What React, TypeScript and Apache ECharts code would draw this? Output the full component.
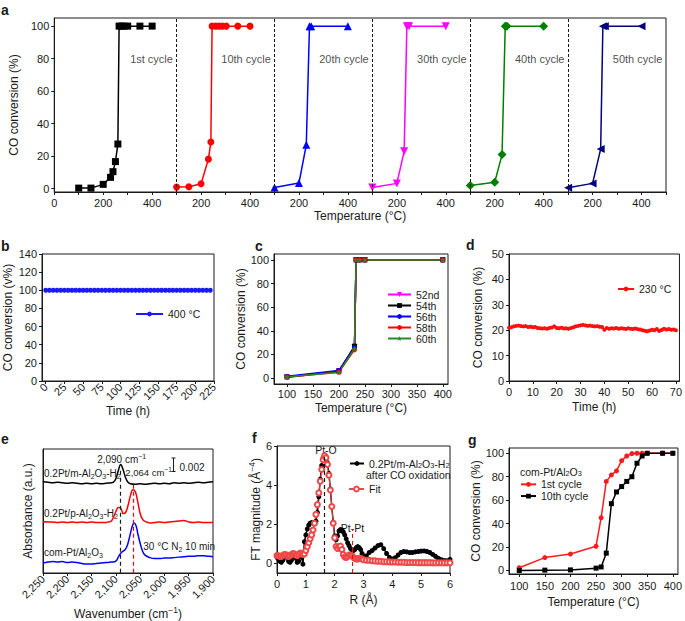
import React, { useEffect, useRef } from "react";
import * as echarts from "echarts";

const FONT = "'Liberation Sans', Arial, Helvetica, sans-serif";
const INK = "#1a1a1a";

// ---------- Panel a : CO conversion over cycles ----------
const aOffsets = [0, 400, 800, 1200, 1600, 2000];
const aDividers = [500, 900, 1300, 1700, 2100];
const aLabels = ["1st cycle", "10th cycle", "20th cycle", "30th cycle", "40th cycle", "50th cycle"];
const aLabelX = [485, 885, 1285, 1685, 2085, 2485];
const aLabelY = 80;
const a1T = [100, 150, 200, 230, 240, 250, 260, 265, 275, 285, 300, 350, 400];
const a1C = [0.4, 0.4, 2.7, 7, 10.5, 16.7, 27.5, 100, 100, 100, 100, 100, 100];
const a10T = [100, 150, 200, 230, 240, 245, 260, 273, 287, 303, 350, 400];
const a10C = [1, 1.2, 3.1, 18.2, 28.7, 100, 100, 100, 100, 100, 100, 100];
const a20T = [100, 200, 230, 243, 250, 400];
const a20C = [0.8, 3.5, 27, 100, 100, 100];
const a30T = [100, 200, 230, 241, 250, 400];
const a30C = [0.8, 3.3, 23, 100, 100, 100];
const a40T = [100, 200, 230, 243, 250, 400];
const a40C = [2, 4, 21, 100, 100, 100];
const a50T = [100, 200, 233, 242, 250, 400];
const a50C = [0.6, 3.3, 24.4, 100, 100, 100];
const aXTicks = [0, 200, 400, 600, 800, 1000, 1200, 1400, 1600, 1800, 2000, 2200, 2400];
const aXMinor = [0, 100, 200, 300, 400, 500, 600, 700, 800, 900, 1000, 1100, 1200, 1300, 1400, 1500, 1600, 1700, 1800, 1900, 2000, 2100, 2200, 2300, 2400, 2500];
const aYTicks = [0, 20, 40, 60, 80, 100];

// ---------- Panel b : 400 °C stability ----------
const bTimes = [0, 5, 10, 15, 20, 25, 30, 35, 40, 45, 50, 55, 60, 65, 70, 75, 80, 85, 90, 95, 100, 105, 110, 115, 120, 125, 130, 135, 140, 145, 150, 155, 160, 165, 170, 175, 180, 185, 190, 195, 200, 205, 210, 215, 220];
const bConv = [100, 100, 100, 100, 100, 100, 100, 100, 100, 100, 100, 100, 100, 100, 100, 100, 100, 100, 100, 100, 100, 100, 100, 100, 100, 100, 100, 100, 100, 100, 100, 100, 100, 100, 100, 100, 100, 100, 100, 100, 100, 100, 100, 100, 100];
const bXTicks = [0, 25, 50, 75, 100, 125, 150, 175, 200, 225];

// ---------- Panel c : cycles 52-60 ----------
const cT = [100, 200, 230, 233, 240, 250, 400];
const c52 = [0.5, 6, 26, 100, 100, 100, 100];
const c54 = [1, 6, 27, 100, 100, 100, 100];
const c56 = [1.5, 6.5, 26, 100, 100, 100, 100];
const c58 = [1, 5, 24, 100, 100, 100, 100];
const c60 = [1, 5, 25, 100, 100, 100, 100];
const cXTicks = [100, 150, 200, 250, 300, 350, 400];
const cYTicks = [0, 20, 40, 60, 80, 100];

// ---------- Panel d : 230 °C stability ----------
const dTimes = [0, 1, 2, 3, 4, 5, 6, 7, 8, 9, 10, 11, 12, 13, 14, 15, 16, 17, 18, 19, 20, 21, 22, 23, 24, 25, 26, 27, 28, 29, 30, 31, 32, 33, 34, 35, 36, 37, 38, 39, 40, 41, 42, 43, 44, 45, 46, 47, 48, 49, 50, 51, 52, 53, 54, 55, 56, 57, 58, 59, 60, 61, 62, 63, 64, 65, 66, 67, 68, 69, 70];
const dConv = [21.0, 21.2, 21.5, 21.7, 21.8, 21.6, 21.5, 21.6, 21.3, 21.4, 21.2, 21.3, 20.9, 20.8, 20.7, 20.8, 20.6, 20.9, 21.1, 21.5, 20.9, 20.8, 21.0, 20.7, 20.8, 20.6, 20.9, 21.2, 21.5, 21.7, 21.9, 22.1, 21.9, 21.7, 21.8, 21.6, 21.5, 21.6, 21.4, 21.3, 20.2, 20.9, 20.6, 20.8, 20.7, 20.9, 20.6, 20.8, 20.7, 20.5, 20.8, 20.6, 20.5, 20.7, 20.4, 20.3, 20.0, 19.8, 19.6, 19.9, 20.2, 20.0, 20.5, 19.7, 20.1, 20.6, 20.3, 20.5, 20.2, 20.3, 20.0];
const dXTicks = [0, 10, 20, 30, 40, 50, 60, 70];

// ---------- Panel e : DRIFTS ----------
const eBlackWn = [2250, 2240, 2230, 2220, 2210, 2200, 2190, 2180, 2170, 2160, 2150, 2140, 2130, 2120, 2110, 2105, 2100, 2095, 2090, 2085, 2080, 2075, 2070, 2060, 2050, 2040, 2030, 2020, 2010, 2000, 1990, 1980, 1970, 1960, 1950, 1940, 1930, 1920, 1910, 1900];
const eBlackAbs = [92, 91.5, 91, 91.5, 91, 90.5, 91, 90.5, 90, 90.5, 90, 90.5, 90, 90.5, 91, 91.5, 95, 103, 109.5, 104, 96, 91.5, 90, 89.5, 90, 89.5, 90, 90.5, 90, 90.5, 90, 91, 90.5, 91, 90.5, 91, 91.5, 91, 91.5, 92];
const eRedWn = [2250, 2240, 2230, 2220, 2210, 2200, 2190, 2180, 2170, 2160, 2150, 2140, 2130, 2120, 2115, 2110, 2105, 2100, 2095, 2090, 2085, 2080, 2075, 2070, 2065, 2060, 2055, 2050, 2045, 2040, 2030, 2020, 2010, 2000, 1990, 1980, 1970, 1960, 1950, 1940, 1930, 1920, 1910, 1900];
const eRedAbs = [52, 51.5, 51.5, 51, 51.5, 51, 51.5, 51, 51.5, 51, 51.5, 51, 51, 51, 51.5, 52, 56, 62, 66, 65.5, 60, 61, 68, 78, 84, 82, 72, 60, 54, 52, 50.5, 51, 51.5, 51, 51.5, 52, 52.5, 53, 51.5, 51, 51.5, 51, 51, 51];
const eBlueWn = [2250, 2240, 2230, 2220, 2210, 2200, 2190, 2180, 2170, 2160, 2150, 2140, 2130, 2120, 2110, 2100, 2095, 2090, 2085, 2080, 2075, 2070, 2065, 2062, 2058, 2055, 2050, 2045, 2040, 2030, 2020, 2010, 2000, 1990, 1980, 1970, 1960, 1950, 1940, 1930, 1920, 1910, 1900];
const eBlueAbs = [10, 11, 11.5, 11, 11.5, 10.5, 11, 10.5, 9.5, 9, 9, 9.5, 10, 10.5, 11, 12, 16, 20, 22, 24, 30, 40, 49, 50.5, 47, 40, 30, 22, 18, 15.5, 14.5, 14.5, 15, 15, 15.5, 16, 16.5, 17, 17, 17.5, 17.5, 17, 16.5];

// ---------- Panel f : EXAFS ----------
const fR = [0, 0.05, 0.1, 0.15, 0.2, 0.25, 0.3, 0.35, 0.4, 0.45, 0.5, 0.55, 0.6, 0.65, 0.7, 0.75, 0.8, 0.85, 0.9, 0.95, 1.0, 1.05, 1.1, 1.15, 1.2, 1.25, 1.3, 1.35, 1.4, 1.45, 1.5, 1.55, 1.6, 1.65, 1.7, 1.75, 1.8, 1.85, 1.9, 1.95, 2.0, 2.05, 2.1, 2.15, 2.2, 2.25, 2.3, 2.35, 2.4, 2.45, 2.5, 2.55, 2.6, 2.65, 2.7, 2.75, 2.8, 2.85, 2.9, 2.95, 3.0, 3.1, 3.2, 3.3, 3.4, 3.5, 3.6, 3.7, 3.8, 3.9, 4.0, 4.1, 4.2, 4.3, 4.4, 4.5, 4.6, 4.7, 4.8, 4.9, 5.0, 5.1, 5.2, 5.3, 5.4, 5.5, 5.6, 5.7, 5.8, 5.9, 6.0];
const fExp = [0.3, 0.2, 0.1, 0.05, 0.15, 0.3, 0.4, 0.3, 0.1, 0.05, 0.15, 0.35, 0.4, 0.25, 0.05, 0.1, 0.4, 0.3, -0.05, 1.1, 1.45, 1.75, 1.95, 2.05, 2.08, 2.05, 2.05, 2.15, 2.6, 3.4, 4.3, 5.0, 5.4, 5.55, 5.45, 5.15, 4.6, 3.8, 2.9, 2.1, 1.4, 1.2, 1.4, 1.65, 1.72, 1.7, 1.6, 1.45, 1.25, 1.05, 0.9, 0.75, 0.68, 0.65, 0.7, 0.8, 0.85, 0.8, 0.7, 0.5, 0.35, 0.38, 0.55, 0.65, 0.78, 0.9, 0.95, 0.75, 0.5, 0.3, 0.22, 0.28, 0.42, 0.55, 0.6, 0.58, 0.55, 0.55, 0.58, 0.6, 0.62, 0.63, 0.6, 0.55, 0.45, 0.35, 0.25, 0.18, 0.14, 0.13, 0.2];
const fFit = [0.4, 0.38, 0.35, 0.35, 0.4, 0.45, 0.45, 0.4, 0.35, 0.38, 0.45, 0.5, 0.48, 0.42, 0.4, 0.45, 0.52, 0.5, 0.45, 0.48, 0.65, 0.85, 1.05, 1.25, 1.45, 1.7, 2.05, 2.5, 3.0, 3.6, 4.2, 4.8, 5.3, 5.5, 5.4, 5.05, 4.5, 3.75, 2.9, 2.05, 1.3, 0.85, 0.75, 0.85, 0.88, 0.7, 0.45, 0.32, 0.3, 0.35, 0.42, 0.42, 0.38, 0.3, 0.25, 0.22, 0.22, 0.25, 0.25, 0.22, 0.18, 0.15, 0.15, 0.13, 0.12, 0.1, 0.1, 0.08, 0.08, 0.07, 0.06, 0.06, 0.05, 0.05, 0.05, 0.04, 0.04, 0.04, 0.04, 0.03, 0.03, 0.03, 0.03, 0.03, 0.02, 0.02, 0.02, 0.02, 0.02, 0.02, 0.02];
const fYTicks = [0, 2, 4, 6];

// ---------- Panel g : com-Pt/Al2O3 ----------
const gT = [100, 150, 200, 250, 260, 270, 280, 290, 300, 310, 320, 330, 340, 350, 380, 400];
const g1 = [2.3, 11, 14, 20.7, 45, 76, 81.5, 85, 93.7, 97.7, 99.7, 100, 100, 100, 100, 100];
const g10 = [0, 0.3, 0.5, 2, 3, 14.8, 57, 67, 71.6, 76, 80, 91.5, 97.7, 100, 100, 100];
const gXTicks = [100, 150, 200, 250, 300, 350, 400];
const gYTicks = [0, 20, 40, 60, 80, 100];

const STAR = "path://M50,0 L61,35 L98,35 L68,57 L79,91 L50,70 L21,91 L32,57 L2,35 L39,35 Z";

const pairs = (xs: number[], ys: number[], off = 0) => xs.map((x, i) => [x + off, ys[i]]);

const richSub = (fs: number, extra = 4) => ({
  n: { fontSize: fs, fontFamily: FONT, color: INK, lineHeight: fs + extra },
  s: { fontSize: fs * 0.7, fontFamily: FONT, color: INK, lineHeight: fs * 0.7, verticalAlign: "bottom" },
  p: { fontSize: fs * 0.7, fontFamily: FONT, color: INK, lineHeight: fs * 0.7, verticalAlign: "top" },
});

function axis(gi: number, extra: any) {
  const base: any = {
    type: "value",
    gridIndex: gi,
    axisLine: { show: true, onZero: false, lineStyle: { color: INK, width: 1 } },
    axisTick: { show: true, length: 3, lineStyle: { color: INK, width: 1 } },
    axisLabel: { show: true, color: INK, fontSize: 11, fontFamily: FONT, margin: 5 },
    splitLine: { show: false },
    nameLocation: "middle",
    nameTextStyle: { color: INK, fontSize: 12, fontFamily: FONT },
  };
  return {
    ...base,
    ...extra,
    axisLabel: { ...base.axisLabel, ...(extra.axisLabel || {}) },
    axisTick: { ...base.axisTick, ...(extra.axisTick || {}) },
    nameTextStyle: { ...base.nameTextStyle, ...(extra.nameTextStyle || {}) },
  };
}

const gridBox = (left: number, top: number, width: number, height: number) => ({
  left, top, width, height, show: true, borderColor: INK, borderWidth: 1, backgroundColor: "transparent",
});

function txt(text: string, x: number, y: number, opts: any = {}) {
  return {
    type: "text",
    silent: true,
    style: {
      text,
      x,
      y,
      fill: INK,
      fontSize: opts.fontSize || 10,
      fontFamily: FONT,
      fontWeight: opts.fontWeight || "normal",
      align: opts.align || "left",
      verticalAlign: "middle",
      rich: opts.rich,
    },
  };
}

function buildOption(): any {
  const lineSeries = (name: string, xi: number, data: any[], color: string, symbol: string, size: number, extra: any = {}) => ({
    type: "line",
    name,
    xAxisIndex: xi,
    yAxisIndex: xi,
    data,
    symbol,
    symbolSize: size,
    color,
    lineStyle: { color, width: 1.5 },
    itemStyle: { color },
    ...extra,
  });

  const aSets = [
    { n: "a1", t: a1T, c: a1C, color: "#000000", sym: "rect", size: 7, rot: 0 },
    { n: "a10", t: a10T, c: a10C, color: "#ff0000", sym: "circle", size: 7, rot: 0 },
    { n: "a20", t: a20T, c: a20C, color: "#0000ff", sym: "triangle", size: 8, rot: 0 },
    { n: "a30", t: a30T, c: a30C, color: "#ff00ff", sym: "triangle", size: 8, rot: 180 },
    { n: "a40", t: a40T, c: a40C, color: "#008000", sym: "diamond", size: 9, rot: 0 },
    { n: "a50", t: a50T, c: a50C, color: "#000080", sym: "triangle", size: 8, rot: 90 },
  ];

  const series: any[] = [];
  aSets.forEach((s, k) => {
    series.push(
      lineSeries(s.n, 0, pairs(s.t, s.c, aOffsets[k]), s.color, s.sym, s.size, {
        symbolRotate: s.rot,
        markLine:
          k === 0
            ? {
                silent: true,
                symbol: ["none", "none"],
                label: { show: false },
                lineStyle: { type: [3, 2], color: INK, width: 1 },
                data: aDividers.map((v) => ({ xAxis: v })),
              }
            : undefined,
      })
    );
  });
  series.push({
    type: "scatter",
    name: "aLabels",
    xAxisIndex: 0,
    yAxisIndex: 0,
    symbolSize: 0,
    silent: true,
    data: aLabelX.map((x, i) => ({ value: [x, aLabelY], label: { formatter: aLabels[i] } })),
    label: { show: true, position: "left", distance: 0, color: INK, fontSize: 11, fontFamily: FONT },
  });

  // b
  series.push(lineSeries("400 °C", 1, pairs(bTimes, bConv), "#1a1aff", "circle", 5, { lineStyle: { color: "#1a1aff", width: 2 } }));

  // c
  series.push(lineSeries("52nd", 2, pairs(cT, c52), "#ff00ff", "triangle", 6, { symbolRotate: 180 }));
  series.push(lineSeries("54th", 2, pairs(cT, c54), "#000000", "rect", 5));
  series.push(lineSeries("56th", 2, pairs(cT, c56), "#0000ff", "circle", 5));
  series.push(lineSeries("58th", 2, pairs(cT, c58), "#ff0000", "circle", 5));
  series.push(lineSeries("60th", 2, pairs(cT, c60), "#228b22", STAR, 6));

  // d
  series.push(lineSeries("230 °C", 3, pairs(dTimes, dConv), "#ff1010", "circle", 4, { lineStyle: { color: "#ff1010", width: 2.5 } }));

  // e
  series.push(
    lineSeries("eBlack", 4, pairs(eBlackWn, eBlackAbs), "#000000", "none", 0, {
      smooth: 0.4,
      showSymbol: false,
      markLine: {
        silent: true,
        symbol: ["none", "none"],
        label: { show: false },
        lineStyle: { type: [4, 3], color: INK, width: 1.2 },
        data: [[{ coord: [2090, 103] }, { coord: [2090, 0] }]],
      },
    })
  );
  series.push(
    lineSeries("eRed", 4, pairs(eRedWn, eRedAbs), "#ff0000", "none", 0, {
      smooth: 0.4,
      showSymbol: false,
      markLine: {
        silent: true,
        symbol: ["none", "none"],
        label: { show: false },
        lineStyle: { type: [4, 3], color: "#ff0000", width: 1.2 },
        data: [[{ coord: [2064, 89] }, { coord: [2064, 0] }]],
      },
    })
  );
  series.push(lineSeries("eBlue", 4, pairs(eBlueWn, eBlueAbs), "#0000ff", "none", 0, { smooth: 0.4, showSymbol: false }));

  // f
  series.push(
    lineSeries("fExp", 5, pairs(fR, fExp), "#000000", "circle", 5, {
      markLine: {
        silent: true,
        symbol: ["none", "none"],
        label: { show: false },
        lineStyle: { type: [4, 3], color: INK, width: 1.2 },
        data: [[{ coord: [1.65, -0.5] }, { coord: [1.65, 5.5] }]],
      },
    })
  );
  series.push(
    lineSeries("Fit", 5, pairs(fR, fFit), "#f04848", "emptyCircle", 5, {
      lineStyle: { color: "#f04848", width: 1 },
      itemStyle: { color: "#f04848", borderColor: "#f04848", borderWidth: 1 },
      markLine: {
        silent: true,
        symbol: ["none", "none"],
        label: { show: false },
        lineStyle: { type: [4, 3], color: "#ff0000", width: 1 },
        data: [[{ coord: [2.6, -0.5] }, { coord: [2.6, 1.75] }]],
      },
    })
  );

  // g
  series.push(lineSeries("1st cycle", 6, pairs(gT, g1), "#ff1a1a", "circle", 5));
  series.push(lineSeries("10th cycle", 6, pairs(gT, g10), "#000000", "rect", 5));

  const legendText = { color: INK, fontSize: 10.5, fontFamily: FONT };

  const sub = richSub(10, 3);

  return {
    animation: false,
    backgroundColor: "#ffffff",
    textStyle: { fontFamily: FONT },
    grid: [
      gridBox(52, 18, 614, 174),
      gridBox(42, 254, 172, 127),
      gridBox(274, 254, 174, 130),
      gridBox(509, 254, 172, 127),
      gridBox(43, 449, 170, 125),
      gridBox(277, 446, 173, 127),
      gridBox(509, 448, 172, 126),
    ],
    xAxis: [
      axis(0, {
        min: 0, max: 2500, name: "Temperature (°C)", nameGap: 18,
        axisLabel: { customValues: aXTicks, formatter: (v: number) => (v === 0 ? "0" : (v / 200) % 2 === 1 ? "200" : "400") },
        axisTick: { customValues: aXMinor },
      }),
      axis(1, {
        min: -5, max: 225, name: "Time (h)", nameGap: 24,
        axisLabel: { customValues: bXTicks, rotate: 45, margin: 4 },
        axisTick: { customValues: bXTicks },
      }),
      axis(2, {
        min: 75, max: 410, name: "Temperature (°C)", nameGap: 18,
        axisLabel: { customValues: cXTicks, margin: 4 },
        axisTick: { customValues: cXTicks },
      }),
      axis(3, {
        min: 0, max: 71.5, name: "Time (h)", nameGap: 20,
        axisLabel: { customValues: dXTicks },
        axisTick: { customValues: dXTicks },
      }),
      axis(4, {
        min: 1900, max: 2250, interval: 50, inverse: true,
        name: "{n|Wavenumber (cm}{p|−1}{n|)}", nameGap: 33,
        nameTextStyle: { rich: richSub(12) },
        axisLabel: { rotate: 45, margin: 4, formatter: (v: number) => v.toLocaleString("en-US") },
      }),
      axis(5, {
        min: 0, max: 6, interval: 1, name: "R (Å)", nameGap: 21,
      }),
      axis(6, {
        min: 80, max: 410, name: "Temperature (°C)", nameGap: 22,
        axisLabel: { customValues: gXTicks, margin: 6 },
        axisTick: { customValues: gXTicks },
      }),
    ],
    yAxis: [
      axis(0, {
        min: -2, max: 105, name: "CO conversion (%)", nameGap: 31,
        axisLabel: { customValues: aYTicks },
        axisTick: { customValues: aYTicks },
      }),
      axis(1, {
        min: 0, max: 140, interval: 20, name: "CO conversion (v%)", nameGap: 28,
      }),
      axis(2, {
        min: -5, max: 105, name: "CO conversion (%)", nameGap: 27,
        axisLabel: { customValues: cYTicks },
        axisTick: { customValues: cYTicks },
      }),
      axis(3, {
        min: 0, max: 50, interval: 10, name: "CO conversion (%)", nameGap: 25,
      }),
      axis(4, {
        min: 0, max: 125, name: "Absorbance (a.u.)", nameGap: 9,
        axisLabel: { show: false }, axisTick: { show: false },
      }),
      axis(5, {
        min: -0.5, max: 6, name: "{n|FT magnitude (Å}{p|−4}{n|)}", nameGap: 13,
        nameTextStyle: { rich: richSub(12) },
        axisLabel: { customValues: fYTicks },
        axisTick: { customValues: fYTicks },
      }),
      axis(6, {
        min: -3, max: 104.5, name: "CO conversion (%)", nameGap: 21,
        axisLabel: { customValues: gYTicks },
        axisTick: { customValues: gYTicks },
      }),
    ],
    legend: [
      { data: ["400 °C"], left: 135, top: 308.5, padding: 0, itemWidth: 27, itemHeight: 6, textStyle: legendText, selectedMode: false },
      {
        data: ["52nd", "54th", "56th", "58th", "60th"], orient: "vertical", left: 387, top: 289, padding: 0, itemGap: 0,
        itemWidth: 23, itemHeight: 6, textStyle: { ...legendText, lineHeight: 9.8 }, selectedMode: false,
      },
      { data: ["230 °C"], left: 617, top: 283.5, padding: 0, itemWidth: 16, itemHeight: 6, textStyle: legendText, selectedMode: false },
      {
        data: ["fExp"], left: 349, top: 458, padding: 0, itemWidth: 14, itemHeight: 6, selectedMode: false,
        formatter: () => "{n|0.2Pt/m-Al}{s|2}{n|O}{s|3}{n|-H}{s|2}",
        textStyle: { ...legendText, rich: richSub(10.5, 1) },
      },
      { data: ["Fit"], left: 348, top: 483.5, padding: 0, itemWidth: 15, itemHeight: 6, textStyle: legendText, selectedMode: false },
      {
        data: ["1st cycle", "10th cycle"], orient: "vertical", left: 520, top: 478.5, padding: 0, itemGap: 0,
        itemWidth: 15, itemHeight: 6, textStyle: { ...legendText, lineHeight: 11.7 }, selectedMode: false,
      },
    ],
    graphic: [
      txt("a", 1, 10, { fontSize: 14, fontWeight: "bold" }),
      txt("b", 1, 246, { fontSize: 14, fontWeight: "bold" }),
      txt("c", 255, 246, { fontSize: 14, fontWeight: "bold" }),
      txt("d", 466, 245, { fontSize: 14, fontWeight: "bold" }),
      txt("e", 1, 439, { fontSize: 14, fontWeight: "bold" }),
      txt("f", 252, 438, { fontSize: 14, fontWeight: "bold" }),
      txt("g", 468, 440, { fontSize: 14, fontWeight: "bold" }),
      // panel e annotations
      txt("{n|2,090 cm}{p|−1}", 121.7, 459, { rich: sub, align: "center" }),
      txt("{n|0.2Pt/m-Al}{s|2}{n|O}{s|3}{n|-H}{s|2}", 44, 473.3, { rich: sub }),
      txt("{n|2,064 cm}{p|−1}", 172, 472, { rich: richSub(9.5, 3), align: "right" }),
      txt("0.002", 179.5, 467.3, { fontSize: 10 }),
      txt("{n|0.2Pt/p-Al}{s|2}{n|O}{s|3}{n|-H}{s|2}", 44, 513.3, { rich: sub }),
      txt("{n|com-Pt/Al}{s|2}{n|O}{s|3}", 44, 552.7, { rich: sub }),
      txt("{n|30 °C N}{s|2}{n| 10 min}", 143.3, 546.7, { rich: sub }),
      { type: "line", silent: true, shape: { x1: 173.5, y1: 458, x2: 173.5, y2: 471.5 }, style: { stroke: INK, lineWidth: 1 } },
      { type: "line", silent: true, shape: { x1: 171.5, y1: 458, x2: 175.5, y2: 458 }, style: { stroke: INK, lineWidth: 1 } },
      { type: "line", silent: true, shape: { x1: 171.5, y1: 471.5, x2: 175.5, y2: 471.5 }, style: { stroke: INK, lineWidth: 1 } },
      // panel f annotations
      txt("Pt-O", 326, 450, { fontSize: 10.5, align: "center" }),
      txt("Pt-Pt", 352.5, 528, { fontSize: 10.5, align: "center" }),
      txt("after CO oxidation", 366, 475, { fontSize: 10.5 }),
      // panel g legend header
      txt("{n|com-Pt/Al}{s|2}{n|O}{s|3}", 520, 471.5, { rich: richSub(10.5, 1) }),
    ],
    series,
  };
}

export default function App() {
  const ref = useRef<HTMLDivElement>(null);
  useEffect(() => {
    if (!ref.current) return;
    const chart = echarts.init(ref.current, undefined, { renderer: "svg", width: 685, height: 621 });
    chart.setOption(buildOption());
    return () => chart.dispose();
  }, []);
  return <div ref={ref} style={{ position: "absolute", left: 0, top: 0, width: 685, height: 621, background: "#fff" }} />;
}
